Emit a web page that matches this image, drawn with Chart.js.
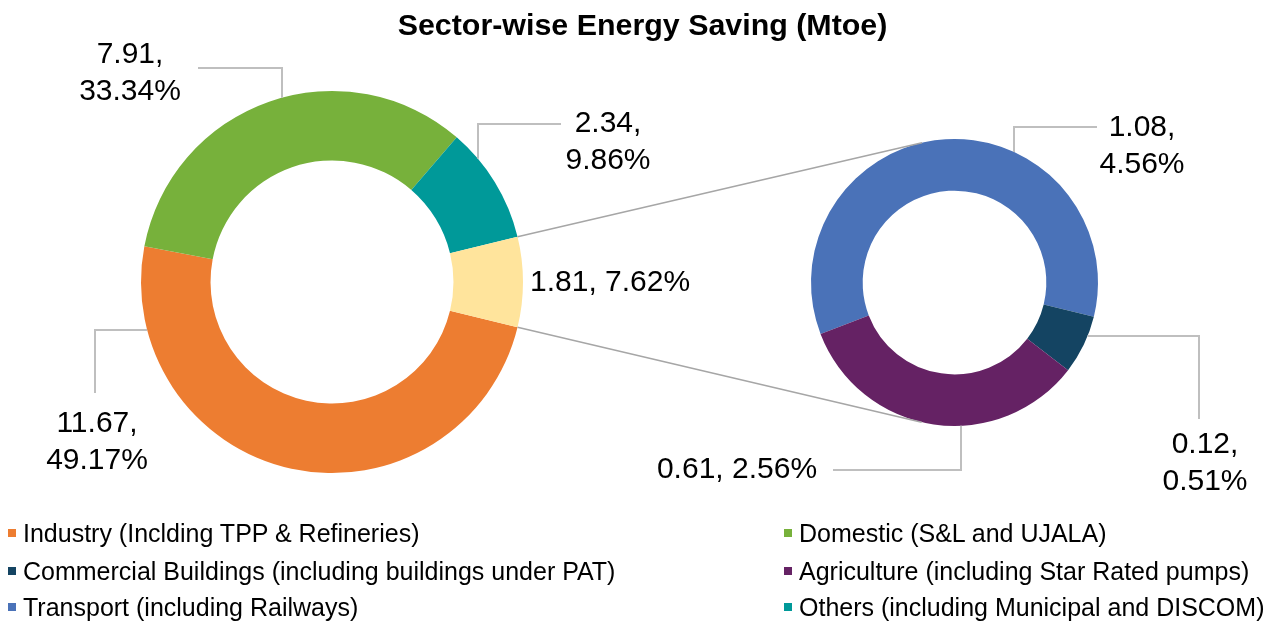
<!DOCTYPE html>
<html>
<head>
<meta charset="utf-8">
<title>Sector-wise Energy Saving</title>
<script src="https://cdn.jsdelivr.net/npm/chart.js@4.4.1/dist/chart.umd.min.js"></script>
<style>
  html, body { margin: 0; padding: 0; background: #fff; }
  #wrap { position: relative; width: 1285px; height: 628px; overflow: hidden;
          font-family: "Liberation Sans", Arial, sans-serif; color: #000; }
  #wrap canvas { position: absolute; left: 0; top: 0; }
  #title { position: absolute; left: 0; top: 5px; width: 1285px; text-align: center;
           font-weight: bold; font-size: 30.4px; line-height: 38px; }
  .leg { position: absolute; font-size: 25px; line-height: 30px; white-space: nowrap;
         display: flex; align-items: center; }
  .leg i { display: inline-block; width: 8px; height: 8px; margin-right: 7px; }
</style>
</head>
<body>
<div id="wrap">
  <canvas id="mainPie" width="1285" height="628"></canvas>
  <canvas id="subPie" width="1285" height="628"></canvas>
  <div id="title">Sector-wise Energy Saving (Mtoe)</div>
  <div id="legend"></div>
</div>
<script>
// ===== data (Mtoe and share of total)
const mainLabels   = ['Industry (Inclding TPP & Refineries)', 'Domestic (S&L and UJALA)',
                      'Others (including Municipal and DISCOM)', 'Other'];
const mainValues   = [11.67, 7.91, 2.34, 1.81];
const mainPercents = [49.17, 33.34, 9.86, 7.62];

const subLabels   = ['Transport (including Railways)',
                     'Commercial Buildings (including buildings under PAT)',
                     'Agriculture (including Star Rated pumps)'];
const subValues   = [1.08, 0.12, 0.61];
const subPercents = [4.56, 0.51, 2.56];

// legend order as in the picture (2 columns, row by row)
const legendOrder = [
  mainLabels[0], mainLabels[1],
  subLabels[1],  subLabels[2],
  subLabels[0],  mainLabels[2]
];

// ===== colours
const mainColors = ['#ED7D31', '#77B13B', '#009999', '#FFE49C'];
const subColors  = ['#4A72B8', '#144462', '#652264'];
const colorOf = {};
mainLabels.forEach((l, i) => colorOf[l] = mainColors[i]);
subLabels.forEach((l, i) => colorOf[l] = subColors[i]);

const LEADER = '#BFBFBF';
const CONNECTOR = '#A6A6A6';
const FONT = '30px "Liberation Sans", Arial, sans-serif';

// label placement (style only): text anchor + leader elbow
// hit: which ring edge the leader ends on ('top'|'bottom' along x, 'left'|'right' along y)
const mainLabelPos = [
  { x: 97,  y: 432, align: 'center', from: [95, 393],  elbow: [95, 330],  hit: 'left'  },
  { x: 130, y: 63,  align: 'center', from: [198, 68],  elbow: [282, 68],  hit: 'top'   },
  { x: 608, y: 132, align: 'center', from: [561, 124], elbow: [478, 124], hit: 'top'   },
  { x: 530, y: 291, align: 'left',   single: true }
];
const subLabelPos = [
  { x: 1142, y: 136, align: 'center', from: [1097, 127], elbow: [1014, 127], hit: 'top'    },
  { x: 1205, y: 453, align: 'center', from: [1199, 419], elbow: [1199, 336], hit: 'right'  },
  { x: 737,  y: 478, align: 'center', single: true, from: [833, 470], elbow: [961, 470], hit: 'bottom' }
];

// ===== plugin: data labels + leader lines
const labelPlugin = {
  id: 'pieLabels',
  afterDraw(chart, args, opts) {
    const ctx = chart.ctx;
    const arc = chart.getDatasetMeta(0).data[0];
    const cx = arc.x, cy = arc.y, R = arc.outerRadius;
    ctx.save();
    opts.pos.forEach((p, i) => {
      if (p.elbow) {
        let end;
        const [ex, ey] = p.elbow;
        if (p.hit === 'top' || p.hit === 'bottom') {
          const dy = Math.sqrt(Math.max(R * R - (ex - cx) ** 2, 0));
          end = [ex, p.hit === 'top' ? cy - dy : cy + dy];
        } else {
          const dx = Math.sqrt(Math.max(R * R - (ey - cy) ** 2, 0));
          end = [p.hit === 'left' ? cx - dx : cx + dx, ey];
        }
        ctx.strokeStyle = LEADER;
        ctx.lineWidth = 2;
        ctx.beginPath();
        ctx.moveTo(p.from[0], p.from[1]);
        ctx.lineTo(ex, ey);
        ctx.lineTo(end[0], end[1]);
        ctx.stroke();
      }
      const v = opts.values[i].toFixed(2);
      const pc = opts.percents[i].toFixed(2) + '%';
      ctx.fillStyle = '#000';
      ctx.font = FONT;
      ctx.textAlign = p.align;
      ctx.textBaseline = 'alphabetic';
      if (p.single) {
        ctx.fillText(`${v}, ${pc}`, p.x, p.y);
      } else {
        ctx.fillText(`${v},`, p.x, p.y);
        ctx.fillText(pc, p.x, p.y + 37);
      }
    });
    ctx.restore();
  }
};

// ===== plugin: lines from the grouped slice to the second doughnut
const connectorPlugin = {
  id: 'pieConnector',
  afterDraw(chart) {
    const src = mainChart.getDatasetMeta(0).data[mainValues.length - 1];
    const dst = chart.getDatasetMeta(0).data[0];
    const C = [dst.x, dst.y], R = dst.outerRadius;
    const ends = [src.startAngle, src.endAngle].map(a =>
      [src.x + Math.cos(a) * src.outerRadius, src.y + Math.sin(a) * src.outerRadius]);
    const ctx = chart.ctx;
    ctx.save();
    ctx.strokeStyle = CONNECTOR;
    ctx.lineWidth = 1.5;
    // tangent from each edge of the slice to the second ring
    ends.forEach((P, k) => {
      const dx = C[0] - P[0], dy = C[1] - P[1];
      const d = Math.hypot(dx, dy);
      const off = Math.asin(R / d);
      const dir = Math.atan2(dy, dx) + (k === 0 ? -off : off);
      const len = Math.sqrt(d * d - R * R);
      ctx.beginPath();
      ctx.moveTo(P[0], P[1]);
      ctx.lineTo(P[0] + Math.cos(dir) * len, P[1] + Math.sin(dir) * len);
      ctx.stroke();
    });
    ctx.restore();
  }
};

// grouped slice centred at 3 o'clock
const mainTotal = mainValues.reduce((a, b) => a + b, 0);
const mainRotation = 90 + mainValues[mainValues.length - 1] / mainTotal * 180;

const mainChart = new Chart(document.getElementById('mainPie'), {
  type: 'doughnut',
  data: {
    labels: mainLabels,
    datasets: [{ data: mainValues, backgroundColor: mainColors, borderWidth: 0 }]
  },
  options: {
    responsive: false,
    animation: false,
    events: [],
    cutout: '63.6%',
    rotation: mainRotation,
    layout: { padding: { left: 141, right: 762, top: 91, bottom: 155 } },
    plugins: {
      legend: { display: false },
      tooltip: { enabled: false },
      pieLabels: { pos: mainLabelPos, values: mainValues, percents: mainPercents }
    }
  },
  plugins: [labelPlugin]
});

new Chart(document.getElementById('subPie'), {
  type: 'doughnut',
  data: {
    labels: subLabels,
    datasets: [{ data: subValues, backgroundColor: subColors, borderWidth: 0 }]
  },
  options: {
    responsive: false,
    animation: false,
    events: [],
    cutout: '64%',
    rotation: 249,
    layout: { padding: { left: 811, right: 187, top: 139, bottom: 202 } },
    plugins: {
      legend: { display: false },
      tooltip: { enabled: false },
      pieLabels: { pos: subLabelPos, values: subValues, percents: subPercents }
    }
  },
  plugins: [labelPlugin, connectorPlugin]
});

// ===== legend (html)
const legend = document.getElementById('legend');
const rowY = [533, 571, 607];
const colX = [8, 784];
legendOrder.forEach((name, i) => {
  const el = document.createElement('div');
  el.className = 'leg';
  el.style.left = colX[i % 2] + 'px';
  el.style.top = (rowY[Math.floor(i / 2)] - 15) + 'px';
  el.innerHTML = `<i style="background:${colorOf[name]}"></i><span></span>`;
  el.querySelector('span').textContent = name;
  legend.appendChild(el);
});
</script>
</body>
</html>
